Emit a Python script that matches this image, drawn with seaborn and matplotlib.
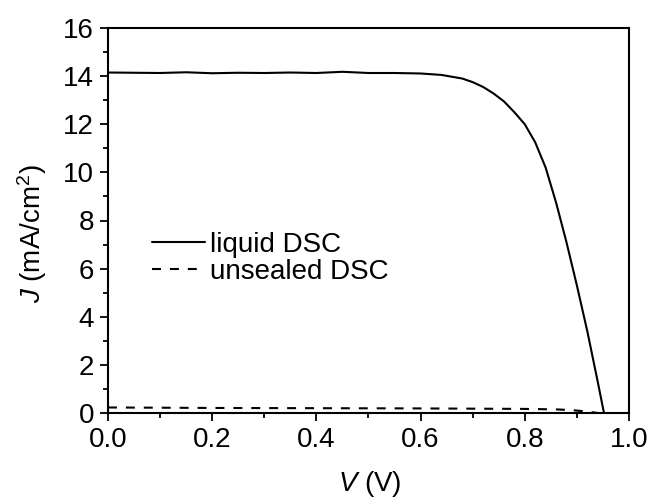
import numpy as np
import pandas as pd
import matplotlib
matplotlib.use('Agg')
import matplotlib.pyplot as plt
import seaborn as sns

# J-V curve, liquid DSC
v_liquid = [0.0, 0.05, 0.10, 0.15, 0.20, 0.25, 0.30, 0.35, 0.40, 0.45, 0.50,
            0.55, 0.60, 0.64, 0.68, 0.70, 0.72, 0.74, 0.76, 0.78, 0.80, 0.82,
            0.84, 0.86, 0.88, 0.90, 0.92, 0.94, 0.952]
j_liquid = [14.15, 14.14, 14.13, 14.16, 14.12, 14.14, 14.13, 14.15, 14.13, 14.18, 14.13,
            14.13, 14.11, 14.05, 13.9, 13.75, 13.55, 13.28, 12.95, 12.5, 12.0, 11.25,
            10.2, 8.75, 7.1, 5.3, 3.4, 1.3, 0.0]

# J-V curve, unsealed DSC
v_unsealed = [0.0, 0.2, 0.4, 0.6, 0.8, 0.86, 0.89, 0.91, 0.93, 0.94]
j_unsealed = [0.23, 0.21, 0.2, 0.19, 0.17, 0.15, 0.12, 0.08, 0.03, 0.0]

x_ticks = [0.0, 0.2, 0.4, 0.6, 0.8, 1.0]
y_ticks = [0, 2, 4, 6, 8, 10, 12, 14, 16]

sns.set_style('ticks')
plt.rcParams['font.family'] = ['Liberation Sans', 'DejaVu Sans']
plt.rcParams['mathtext.fontset'] = 'custom'
plt.rcParams['mathtext.rm'] = 'Liberation Sans'
plt.rcParams['mathtext.it'] = 'Liberation Sans:italic'
plt.rcParams['text.color'] = 'black'
plt.rcParams['axes.labelcolor'] = 'black'

liquid = pd.DataFrame({'V': v_liquid, 'J': j_liquid})
unsealed = pd.DataFrame({'V': v_unsealed, 'J': j_unsealed})

fig = plt.figure(figsize=(6.52, 5.0), dpi=100)
ax = fig.add_axes([0.1656, 0.174, 0.7991, 0.770])

sns.lineplot(data=liquid, x='V', y='J', ax=ax, color='black', lw=1.5,
             label='liquid DSC', sort=False)
sns.lineplot(data=unsealed, x='V', y='J', ax=ax, color='black', lw=1.5,
             linestyle=(0, (4.3, 4.3)), label='unsealed DSC', sort=False)

ax.set_xlim(0, 1.0)
ax.set_ylim(0, 16)
ax.set_xticks(x_ticks)
ax.set_xticklabels([f'{t:.1f}' for t in x_ticks])
ax.set_yticks(y_ticks)
ax.set_xticks(np.arange(0.1, 1.0, 0.2), minor=True)
ax.set_yticks(np.arange(1, 16, 2), minor=True)
ax.tick_params(which='major', length=6, width=1.3, labelsize=20, color='black',
               labelcolor='black', pad=4)
ax.tick_params(which='minor', length=3.5, width=1.3, color='black')
ax.tick_params(top=False, right=False, which='both')

for s in ax.spines.values():
    s.set_linewidth(1.5)
    s.set_color('black')

ax.set_xlabel(r'$\it{V}$ (V)', fontsize=20)
ax.set_ylabel(r'$\it{J}$ (mA/cm$^2$)', fontsize=20)
ax.xaxis.set_label_coords(0.503, -0.146)
ax.yaxis.set_label_coords(-0.114, 0.465)

ax.legend(loc='center left', bbox_to_anchor=(0.0845, 0.402), frameon=False,
          fontsize=20, handlelength=1.9, handletextpad=0.2, labelspacing=0.05,
          borderpad=0, borderaxespad=0, labelcolor='black')

fig.savefig('out.png', dpi=100)
